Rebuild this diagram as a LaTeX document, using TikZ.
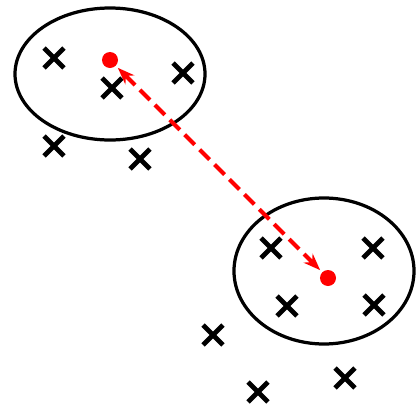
\documentclass[tikz,border=0pt]{standalone}
\usetikzlibrary{arrows.meta,shapes.misc}

\begin{document}
\begin{tikzpicture}[x=0.025cm,y=-0.025cm,>=Stealth,
 pt/.style={cross out,draw,minimum size=0.38cm,inner sep=0pt,line width=3.4pt},
 ctr/.style={circle,fill=red,minimum size=0.4cm,inner sep=0pt},
 grp/.style={draw,line width=2.3pt}]
\useasboundingbox (0,0) rectangle (416,408);
% cluster one
\draw[grp] (110,74) ellipse [x radius=95,y radius=66];
\node[pt] (a1) at (54,58) {};
\node[pt] (a2) at (112,88) {};
\node[pt] (a3) at (183,73) {};
\node[pt] (a4) at (54,146) {};
\node[pt] (a5) at (140,159) {};
% cluster two
\draw[grp] (324,271) ellipse [x radius=90,y radius=73];
\node[pt] (b1) at (271,248) {};
\node[pt] (b2) at (373,248) {};
\node[pt] (b3) at (287,306) {};
\node[pt] (b4) at (374,305) {};
\node[pt] (b5) at (213,335) {};
\node[pt] (b6) at (258,392) {};
\node[pt] (b7) at (345,378) {};
% centroids
\node[ctr] (c1) at (110,60) {};
\node[ctr] (c2) at (328,278) {};
\draw[{Stealth[length=12pt,width=9pt]}-{Stealth[length=12pt,width=9pt]},red,line width=3pt,dash pattern=on 10pt off 5pt,shorten <=2pt,shorten >=2pt] (c1)--(c2);
\end{tikzpicture}
\end{document}
